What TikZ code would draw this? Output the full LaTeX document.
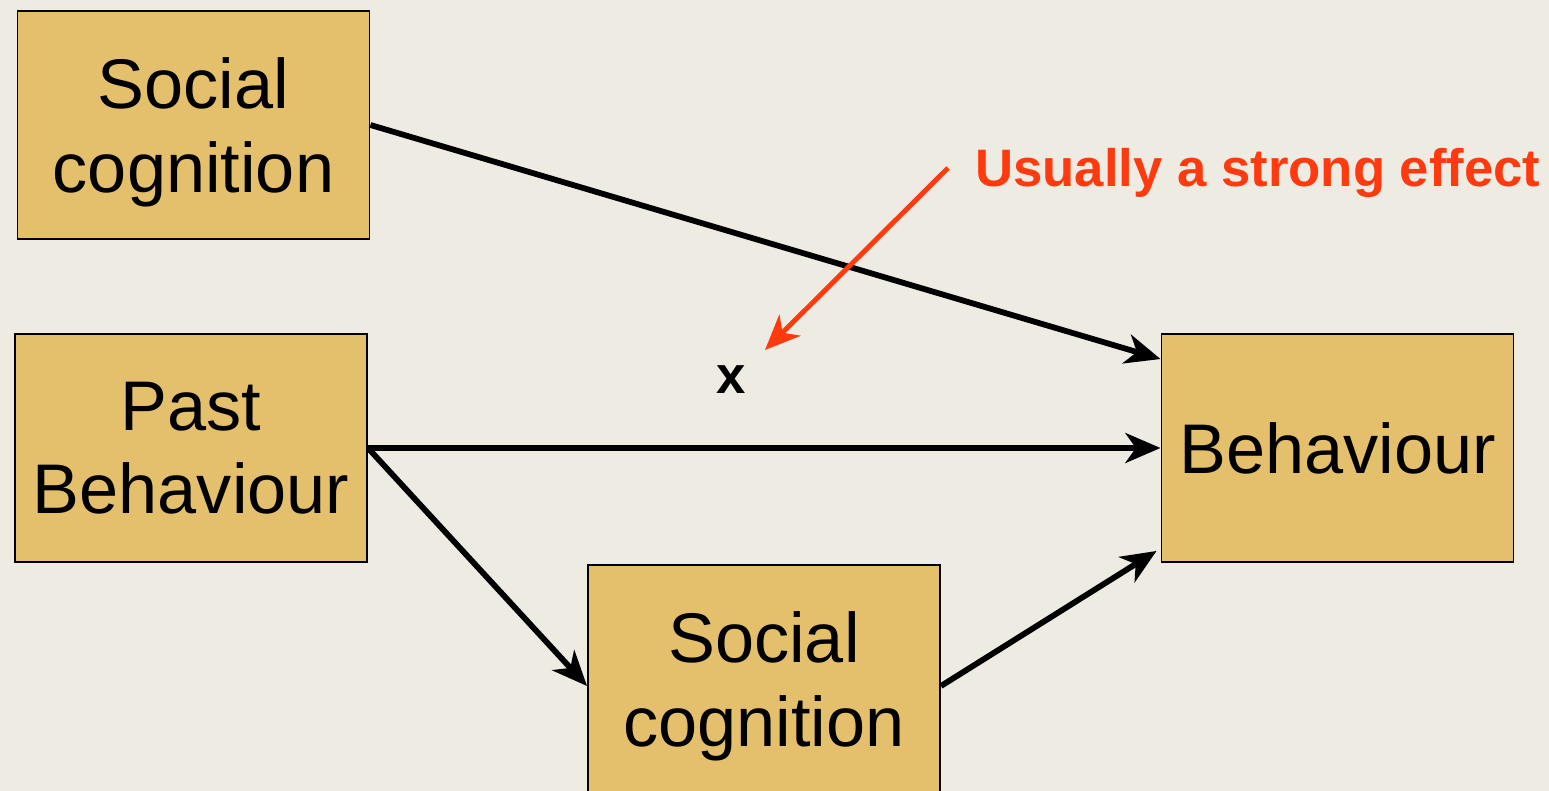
\documentclass[tikz,border=0pt]{standalone}
\usepackage{fontspec}
\setmainfont{Liberation Sans}
\usetikzlibrary{arrows.meta,positioning,calc}
\definecolor{pbBack}{HTML}{EEEBE3}
\definecolor{pbBox}{HTML}{E5C06C}
\definecolor{pbRed}{HTML}{FF3A0E}

\tikzset{
  pbbox/.style={draw=black,line width=1.1pt,fill=pbBox,minimum width=352\pbu,
                minimum height=228\pbu,align=center,inner sep=0pt,text depth=0pt,
                font=\fontsize{40}{47.5}\selectfont},
  pbarrow/.style={line width=3.3pt,-{Stealth[length=20pt,width=17pt,inset=6pt]}},
}
\newlength{\pbu}
\setlength{\pbu}{0.02cm}

\begin{document}
\begin{tikzpicture}[x=0.02cm,y=-0.02cm]
  \fill[pbBack] (0,0) rectangle (1549,791);
  \useasboundingbox (0,0) rectangle (1549,791);

  \node[pbbox] (sc1) at (193.5,125) {Social\\cognition};
  \node[pbbox] (past) at (191,448) {Past\\Behaviour};
  \node[pbbox] (sc2) at (764,679) {Social\\cognition};
  \node[pbbox] (beh) at (1337.5,448) {Behaviour};

  \coordinate (behtop) at ($(beh.north west)+(0,26)$);
  \coordinate (behlow) at ($(beh.south west)+(-4,-12)$);
  \draw[pbarrow] (sc1.east) -- (behtop);
  \draw[pbarrow] (past.east) -- (beh.west);
  \draw[pbarrow] (past.east) -- ($(sc2.west)+(0,7)$);
  \draw[pbarrow] ($(sc2.east)+(0,7)$) -- (behlow);

  \node[font=\fontsize{30}{36}\selectfont\bfseries,text=pbRed,anchor=west]
    (note) at (969,173) {Usually a strong effect};
  \node[font=\fontsize{30}{36}\selectfont\bfseries] (xmark) at (731,380) {x};
  \coordinate (tip) at (765,350);
  \draw[pbarrow,pbRed,line width=2.8pt] ($(note.west)+(-21,-5)$) -- (tip);
\end{tikzpicture}
\end{document}
